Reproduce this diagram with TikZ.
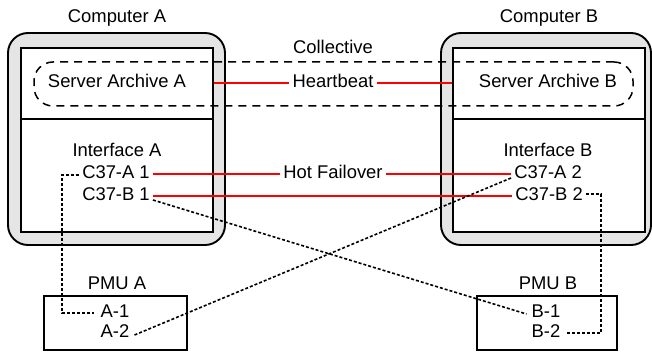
\documentclass[tikz,border=0pt]{standalone}
\usepackage{fontspec}
\setmainfont{Liberation Sans}
\begin{document}
\begin{tikzpicture}[x=1pt,y=-1pt,
  every node/.style={font=\fontsize{18.4}{22}\selectfont},
  txt/.style={inner sep=3pt, text height=13pt, text depth=3.5pt},
  outerbox/.style={draw=black, fill=black!10, line width=1.9pt, rounded corners=20pt, inner sep=0pt},
  innerbox/.style={draw=black, fill=white, line width=1.9pt, inner sep=0pt},
  collbox/.style={draw=black, line width=1.5pt, dash pattern=on 8pt off 6pt, rounded corners=19pt, inner sep=0pt},
  pmubox/.style={draw=black, fill=white, line width=1.6pt, inner sep=0pt},
  redline/.style={draw=red, line width=1.6pt},
  dotline/.style={draw=black, line width=1.6pt, dash pattern=on 3pt off 2pt}
]
\useasboundingbox (0,0) rectangle (652,352);

% computer boxes
\node[outerbox, minimum width=217, minimum height=212] (compAbox) at (116.5,139) {};
\node[innerbox, minimum width=192, minimum height=71] (archA) at (117,83.5) {};
\node[innerbox, minimum width=192, minimum height=113] (intA) at (117,175.5) {};
\node[outerbox, minimum width=210, minimum height=212] (compBbox) at (546,139) {};
\node[innerbox, minimum width=192, minimum height=71] (archB) at (549,83.5) {};
\node[innerbox, minimum width=192, minimum height=113] (intB) at (549,175.5) {};

% collective
\node[collbox, minimum width=599, minimum height=44] (coll) at (333.5,84) {};

% PMU boxes
\node[pmubox, minimum width=143, minimum height=54] (pmuAbox) at (115.5,323) {};
\node[pmubox, minimum width=140, minimum height=54] (pmuBbox) at (547,323) {};

% texts
\node[txt] (compA) at (117,18) {Computer A};
\node[txt] (compB) at (549,18) {Computer B};
\node[txt] (colltxt) at (333,49) {Collective};
\node[txt] (srvA) at (117,83) {Server Archive A};
\node[txt] (srvB) at (548,83) {Server Archive B};
\node[txt] (hb) at (333,83) {Heartbeat};
\node[txt] (ifA) at (117,152) {Interface A};
\node[txt] (ifB) at (548,152) {Interface B};
\node[txt] (c37a1) at (116,174) {C37-A 1};
\node[txt] (c37b1) at (116,196) {C37-B 1};
\node[txt] (hf) at (333,174) {Hot Failover};
\node[txt] (c37a2) at (548,174) {C37-A 2};
\node[txt] (c37b2) at (549,196) {C37-B 2};
\node[txt] (pmuA) at (117,285) {PMU A};
\node[txt] (pmuB) at (548,285) {PMU B};
\node[txt, inner xsep=6pt] (a1) at (115,313) {A-1};
\node[txt, inner xsep=5pt] (a2) at (115,333) {A-2};
\node[txt, inner xsep=5pt] (b1) at (546,313) {B-1};
\node[txt, inner xsep=6pt] (b2) at (546,333) {B-2};

% red links
\draw[redline] (archA.east |- srvA) -- (hb.west);
\draw[redline] (hb.east) -- (archB.west |- srvB);
\draw[redline] (c37a1.east) -- (hf.west);
\draw[redline] (hf.east) -- (c37a2.west);
\draw[redline] (c37b1.east) -- (c37b2.west);

% dotted links
\draw[dotline] ([yshift=-1pt]c37a1.west) -- ++(-17,0) |- (a1.west);
\draw[dotline] ([yshift=-4pt]c37b1.east) -- ([yshift=-1pt]b1.west);
\draw[dotline] ([yshift=-2pt]a2.east) -- ([yshift=-4pt]c37a2.west);
\draw[dotline] ([yshift=2pt]c37b2.east) -- ++(15,0) |- (b2.east);
\end{tikzpicture}
\end{document}
